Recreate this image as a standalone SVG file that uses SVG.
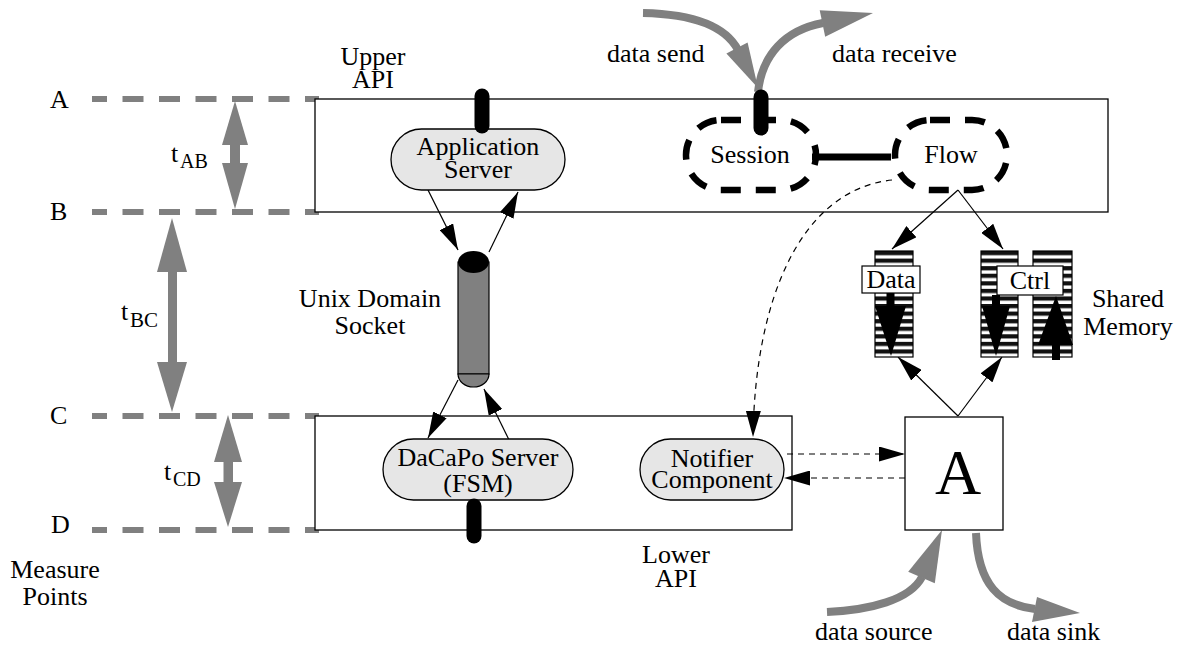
<svg xmlns="http://www.w3.org/2000/svg" width="1181" height="649" viewBox="0 0 1181 649">
  <style>
    text { font-family: "Liberation Serif", "Times New Roman", serif; font-size: 26px; fill: #000; }
    .mid { text-anchor: middle; }
    .sub { font-size: 20px; }
    .frame { fill: #fff; stroke: #000; stroke-width: 1.3; }
    .pill { fill: #e6e6e6; stroke: #000; stroke-width: 1.3; }
    .measure { stroke: #808080; stroke-width: 6; stroke-dasharray: 21 15.5; stroke-dashoffset: 6; fill: none; }
    .gray { fill: #808080; }
    .flowline { stroke: #808080; stroke-width: 8; fill: none; }
    .link { stroke: #000; stroke-width: 1.2; fill: none; marker-end: url(#ah); }
    .dlink { stroke: #000; stroke-width: 1.2; fill: none; stroke-dasharray: 6 5; marker-end: url(#ah); }
    .api { stroke: #000; stroke-width: 15; stroke-linecap: round; }
    .dashpill { fill: none; stroke: #000; stroke-width: 6.5; stroke-dasharray: 20 15; }
    .bar { fill: url(#stripes); stroke: #000; stroke-width: 1.2; }
    .tag { fill: #fff; stroke: #000; stroke-width: 1.2; }
  </style>
  <defs>
    <marker id="ah" viewBox="0 0 26 15" refX="26" refY="7.5" markerWidth="26" markerHeight="15" markerUnits="userSpaceOnUse" orient="auto">
      <path d="M0,0 L26,7.5 L0,15 z" fill="#000"/>
    </marker>
    <pattern id="stripes" x="0" y="251" width="20" height="7.57" patternUnits="userSpaceOnUse">
      <rect width="20" height="7.57" fill="#fff"/>
      <rect width="20" height="4.2" fill="#111"/>
    </pattern>
  </defs>

  <!-- measure points A..D -->
  <g id="measure-points">
    <line class="measure" x1="92" y1="99" x2="319" y2="99"/>
    <line class="measure" x1="92" y1="212" x2="319" y2="212"/>
    <line class="measure" x1="92" y1="416" x2="319" y2="416"/>
    <line class="measure" x1="92" y1="530" x2="319" y2="530"/>
    <text x="50" y="108">A</text>
    <text x="50" y="220">B</text>
    <text x="50" y="424">C</text>
    <text x="51" y="533">D</text>
    <text class="mid" x="55" y="578">Measure</text>
    <text class="mid" x="55" y="605">Points</text>
  </g>

  <!-- timing intervals -->
  <g id="t-ab">
    <rect class="gray" x="230" y="141" width="10" height="26"/>
    <polygon class="gray" points="235,101 248,145 222,145"/>
    <polygon class="gray" points="235,209 248,163 222,163"/>
    <text x="171" y="162">t</text><text class="sub" x="180" y="168">AB</text>
  </g>
  <g id="t-bc">
    <rect class="gray" x="168" y="268" width="9" height="98"/>
    <polygon class="gray" points="172,218 187,272 157,272"/>
    <polygon class="gray" points="172,412 187,362 157,362"/>
    <text x="121" y="320">t</text><text class="sub" x="130" y="327" style="font-size:21px">BC</text>
  </g>
  <g id="t-cd">
    <rect class="gray" x="223.5" y="458" width="9.5" height="28"/>
    <polygon class="gray" points="228,415 242,462 214,462"/>
    <polygon class="gray" points="228,527 242,482 214,482"/>
    <text x="164" y="480">t</text><text class="sub" x="173" y="486">CD</text>
  </g>

  <!-- layer frames -->
  <g id="upper-layer">
    <rect class="frame" x="315" y="99" width="793" height="113"/>
    <text class="mid" x="373" y="65">Upper</text>
    <text class="mid" x="373" y="88">API</text>
  </g>
  <g id="lower-layer">
    <rect class="frame" x="315" y="416" width="477" height="114"/>
    <text class="mid" x="676" y="563">Lower</text>
    <text class="mid" x="676" y="587">API</text>
  </g>

  <!-- connectors -->
  <g id="connectors">
    <line class="link" x1="428" y1="190" x2="458" y2="250"/>
    <line class="link" x1="489" y1="252" x2="518" y2="192"/>
    <line class="link" x1="458" y1="380" x2="428" y2="438"/>
    <line class="link" x1="512" y1="446" x2="484" y2="389"/>
    <line class="link" x1="958" y1="190" x2="892" y2="249"/>
    <line class="link" x1="958" y1="190" x2="1003" y2="249"/>
    <line class="link" x1="958" y1="416" x2="898" y2="357"/>
    <line class="link" x1="958" y1="416" x2="1002" y2="357"/>
    <path class="dlink" d="M892,180 C800,190 755,300 753,437"/>
    <line class="dlink" x1="787" y1="454" x2="905" y2="454"/>
    <line class="dlink" x1="905" y1="478" x2="784" y2="478"/>
    <line x1="812" y1="157" x2="891" y2="157" stroke="#000" stroke-width="7"/>
    <!-- data in / out flows -->
    <path class="flowline" d="M643,13 C690,14 725,25 738,50"/>
    <polygon class="gray" points="726.4,53.6 747.6,42.4 758,88"/>
    <path class="flowline" d="M758,92 C762,55 785,30 823,23"/>
    <polygon class="gray" points="819.7,10.3 825.2,36.7 873,13"/>
    <path class="flowline" d="M827,612 C870,610 910,600 922,577"/>
    <polygon class="gray" points="908.2,571.8 934.8,583.2 942,530"/>
    <path class="flowline" d="M976,533 C978,585 1000,605 1035,609"/>
    <polygon class="gray" points="1037,597 1032,622 1080,613"/>
    <text x="607" y="62">data send</text>
    <text x="832" y="62">data receive</text>
    <text x="815" y="640">data source</text>
    <text x="1007" y="640">data sink</text>
  </g>

  <!-- nodes -->
  <g id="application-server">
    <rect class="pill" x="391" y="129" width="174" height="61" rx="30.5"/>
    <line class="api" x1="482" y1="96" x2="482" y2="126"/>
    <text class="mid" x="478" y="155">Application</text>
    <text class="mid" x="478" y="178">Server</text>
  </g>

  <g id="session">
    <rect class="dashpill" x="686" y="120" width="130" height="70" rx="35"/>
    <line class="api" x1="761" y1="97" x2="761" y2="128"/>
    <text class="mid" x="750" y="163">Session</text>
  </g>

  <g id="flow">
    <rect class="dashpill" x="895" y="120" width="112" height="70" rx="35"/>
    <text class="mid" x="951" y="163">Flow</text>
  </g>

  <g id="unix-socket">
    <rect x="458" y="262" width="31" height="112" fill="#808080" stroke="#000" stroke-width="1.2"/>
    <path d="M458,374 A15.5,13 0 0 0 489,374 Z" fill="#808080" stroke="#000" stroke-width="1.2"/>
    <ellipse cx="473.5" cy="262" rx="15.5" ry="11" fill="#000"/>
    <text class="mid" x="370" y="307">Unix Domain</text>
    <text class="mid" x="370" y="334">Socket</text>
  </g>

  <g id="dacapo-server">
    <rect class="pill" x="383" y="439" width="190" height="61" rx="30.5"/>
    <line class="api" x1="474" y1="506" x2="474" y2="536"/>
    <text class="mid" x="478" y="466">DaCaPo Server</text>
    <text class="mid" x="478" y="492">(FSM)</text>
  </g>

  <g id="notifier">
    <rect class="pill" x="640" y="439" width="144" height="61" rx="30.5"/>
    <text class="mid" x="712" y="467">Notifier</text>
    <text class="mid" x="712" y="488">Component</text>
  </g>

  <g id="shared-memory">
    <rect class="bar" x="875" y="251" width="38" height="106"/>
    <rect class="bar" x="981" y="251" width="37" height="106"/>
    <rect class="bar" x="1033" y="251" width="39" height="106"/>
    <rect class="tag" x="862" y="266" width="58" height="27"/>
    <text class="mid" x="891" y="288">Data</text>
    <rect class="tag" x="997" y="266" width="66" height="29"/>
    <text class="mid" x="1030" y="289">Ctrl</text>
    <polygon points="886.5,293 894.5,293 894.5,306 906,306 891,356 875,306 886.5,306"/>
    <polygon points="992,295 1000,295 1000,306 1010,306 996,356 982,306 992,306"/>
    <polygon points="1056,296 1073,345 1060,345 1060,360 1052,360 1052,345 1038,345"/>
    <text class="mid" x="1128" y="307">Shared</text>
    <text class="mid" x="1128" y="335">Memory</text>
  </g>

  <g id="application-a">
    <rect class="frame" x="905" y="417" width="98" height="113"/>
    <text class="mid" x="958" y="494" style="font-size:64px">A</text>
  </g>
</svg>
